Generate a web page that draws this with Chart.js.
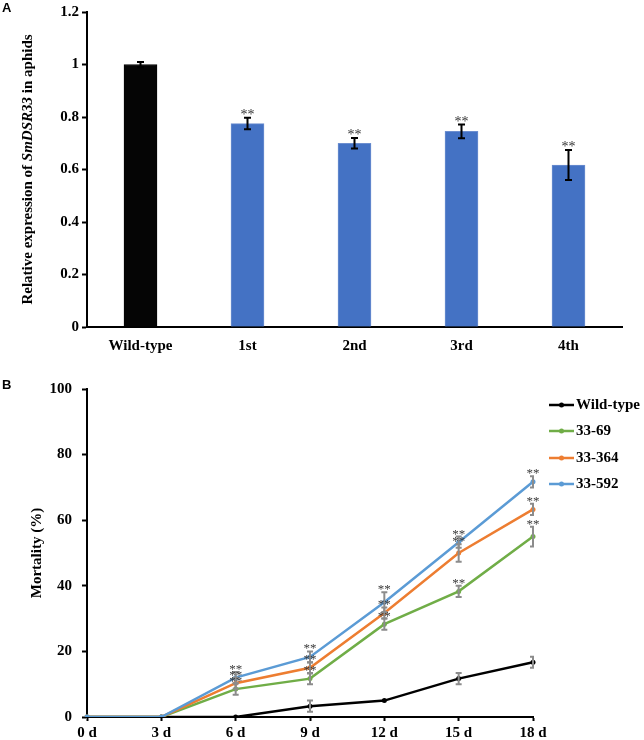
<!DOCTYPE html>
<html><head><meta charset="utf-8">
<script src="https://cdn.jsdelivr.net/npm/chart.js@4/dist/chart.umd.min.js"></script>
<style>
html,body{margin:0;padding:0;background:#fff;}
#wrapA{position:absolute;left:0;top:0;width:644px;height:360px;}
#wrapB{position:absolute;left:0;top:360px;width:644px;height:380px;}
canvas{display:block;}
</style></head><body>
<div id="wrapA"><canvas id="chartA" width="644" height="360"></canvas></div>
<div id="wrapB"><canvas id="chartB" width="644" height="380"></canvas></div>
<script>
// ---- Panel A data ----
const lineNames = ['Wild-type', '1st', '2nd', '3rd', '4th'];
const expression = [1.0, 0.775, 0.70, 0.745, 0.617];
const expressionErr = [0.01, 0.022, 0.02, 0.026, 0.057];
const expressionSig = ['', '**', '**', '**', '**'];
const expressionTicks = ['0', '0.2', '0.4', '0.6', '0.8', '1', '1.2'];

// ---- Panel B data ----
const days = ['0 d', '3 d', '6 d', '9 d', '12 d', '15 d', '18 d'];
const seriesNames = ['Wild-type', '33-69', '33-364', '33-592'];
const wildType = [0, 0, 0, 3.3, 5, 11.7, 16.7];
const wildTypeErr = [0, 0, 0, 1.7, 0, 1.7, 1.7];
const line69 = [0, 0, 8.5, 11.7, 28.3, 38.3, 55];
const line69Err = [0, 0, 1.7, 1.7, 1.7, 1.7, 3];
const line364 = [0, 0, 10.3, 15, 31.7, 50, 63.3];
const line364Err = [0, 0, 1.7, 1.7, 1.7, 2.7, 1.7];
const line592 = [0, 0, 12, 18.3, 35, 53.3, 71.7];
const line592Err = [0, 0, 1.7, 1.7, 3, 1.7, 1.7];
const mortalitySig = ['', '', '**', '**', '**', '**', '**'];

const SERIF = "'Liberation Serif', 'Times New Roman', serif";
const SANS = "'Liberation Sans', Arial, sans-serif";

// ---------- Chart A ----------
const panelAPlugin = {
  id: 'panelA',
  afterDatasetsDraw(chart) {
    const ctx = chart.ctx, x = chart.scales.x, y = chart.scales.y;
    ctx.save();
    ctx.strokeStyle = '#000';
    ctx.lineWidth = 2;
    expression.forEach((v, i) => {
      const e = expressionErr[i];
      const px = x.getPixelForValue(i);
      const top = y.getPixelForValue(v + e), bot = y.getPixelForValue(v - e);
      ctx.beginPath();
      ctx.moveTo(px, top); ctx.lineTo(px, bot);
      ctx.moveTo(px - 3.5, top); ctx.lineTo(px + 3.5, top);
      ctx.moveTo(px - 3.5, bot); ctx.lineTo(px + 3.5, bot);
      ctx.stroke();
      if (expressionSig[i]) {
        ctx.fillStyle = '#333';
        ctx.font = '14px ' + SERIF;
        ctx.textAlign = 'center';
        ctx.textBaseline = 'alphabetic';
        ctx.fillText(expressionSig[i], px, top + 1);
      }
    });
    ctx.restore();
  },
  afterDraw(chart) {
    const ctx = chart.ctx;
    ctx.save();
    ctx.fillStyle = '#000';
    ctx.font = 'bold 13px ' + SANS;
    ctx.textAlign = 'left';
    ctx.textBaseline = 'middle';
    ctx.fillText('A', 2, 8);
    const segs = [
      ['Relative expression of ', 'bold 15px ' + SERIF],
      ['SmDSR33', 'italic bold 15px ' + SERIF],
      [' in aphids', 'bold 15px ' + SERIF]
    ];
    let total = 0;
    segs.forEach(s => { ctx.font = s[1]; total += ctx.measureText(s[0]).width; });
    const area = chart.chartArea;
    ctx.translate(28, (area.top + area.bottom) / 2);
    ctx.rotate(-Math.PI / 2);
    let cx = -total / 2;
    segs.forEach(s => { ctx.font = s[1]; ctx.fillText(s[0], cx, 0); cx += ctx.measureText(s[0]).width; });
    ctx.restore();
  }
};

new Chart(document.getElementById('chartA'), {
  type: 'bar',
  data: {
    labels: lineNames,
    datasets: [{
      data: expression,
      backgroundColor: ['#050505', '#4472C4', '#4472C4', '#4472C4', '#4472C4'],
      borderColor: ['#050505', '#6d8fd0', '#6d8fd0', '#6d8fd0', '#6d8fd0'],
      borderWidth: 1,
      barThickness: 33
    }]
  },
  options: {
    responsive: false,
    devicePixelRatio: 1,
    animation: false,
    layout: { padding: { top: 5, right: 22, left: 0, bottom: 0 } },
    plugins: { legend: { display: false }, tooltip: { enabled: false } },
    scales: {
      x: {
        grid: { display: false, drawTicks: false },
        border: { display: true, color: '#000', width: 2 },
        ticks: { color: '#000', font: { family: SERIF, size: 15, weight: 'bold' }, padding: 10, maxRotation: 0, autoSkip: false },
        afterFit(s) { s.height = 33; }
      },
      y: {
        min: 0, max: 1.2,
        ticks: {
          stepSize: 0.2, color: '#000', font: { family: SERIF, size: 15, weight: 'bold' }, padding: 3,
          callback: (v, i) => expressionTicks[i]
        },
        grid: { display: true, drawOnChartArea: false, drawTicks: true, tickLength: 5, tickWidth: 2, tickColor: '#000' },
        border: { display: true, color: '#000', width: 2 },
        afterFit(s) { s.width = 87; }
      }
    }
  },
  plugins: [panelAPlugin]
});

// ---------- Chart B ----------
const seriesValues = [wildType, line69, line364, line592];
const seriesErrs = [wildTypeErr, line69Err, line364Err, line592Err];
const seriesColors = ['#000000', '#70AD47', '#ED7D31', '#5B9BD5'];

const panelBPlugin = {
  id: 'panelB',
  afterDatasetsDraw(chart) {
    const ctx = chart.ctx, x = chart.scales.x, y = chart.scales.y, area = chart.chartArea;
    ctx.save();
    ctx.beginPath();
    ctx.rect(0, 0, area.right + 1, chart.height);
    ctx.clip();
    ctx.strokeStyle = '#8c8c8c';
    ctx.lineWidth = 2;
    seriesValues.forEach((vals, si) => {
      vals.forEach((v, i) => {
        const e = seriesErrs[si][i];
        if (!e) return;
        const px = x.getPixelForValue(i);
        const top = y.getPixelForValue(v + e), bot = y.getPixelForValue(v - e);
        ctx.beginPath();
        ctx.moveTo(px, top); ctx.lineTo(px, bot);
        ctx.moveTo(px - 3, top); ctx.lineTo(px + 3, top);
        ctx.moveTo(px - 3, bot); ctx.lineTo(px + 3, bot);
        ctx.stroke();
      });
    });
    ctx.restore();
    ctx.save();
    ctx.fillStyle = '#3a3a3a';
    ctx.font = '13px ' + SERIF;
    ctx.textAlign = 'center';
    ctx.textBaseline = 'alphabetic';
    [1, 2, 3].forEach(si => {
      seriesValues[si].forEach((v, i) => {
        if (!mortalitySig[i]) return;
        const px = x.getPixelForValue(i);
        const top = y.getPixelForValue(v + seriesErrs[si][i]);
        ctx.fillText(mortalitySig[i], px, top + 1);
      });
    });
    ctx.restore();
  },
  afterDraw(chart) {
    const ctx = chart.ctx;
    ctx.save();
    ctx.fillStyle = '#000';
    ctx.font = 'bold 13px ' + SANS;
    ctx.textAlign = 'left';
    ctx.textBaseline = 'middle';
    ctx.fillText('B', 2, 25);
    const rowY = [45, 71, 98, 124];
    seriesNames.forEach((name, i) => {
      const yy = rowY[i];
      ctx.strokeStyle = seriesColors[i];
      ctx.lineWidth = 2.5;
      ctx.beginPath(); ctx.moveTo(549, yy); ctx.lineTo(574, yy); ctx.stroke();
      ctx.fillStyle = seriesColors[i];
      ctx.beginPath(); ctx.arc(561.5, yy, 2.5, 0, Math.PI * 2); ctx.fill();
      ctx.fillStyle = '#000';
      ctx.font = 'bold 15px ' + SERIF;
      ctx.fillText(name, 576, yy);
    });
    ctx.restore();
  }
};

new Chart(document.getElementById('chartB'), {
  type: 'line',
  data: {
    labels: days,
    datasets: seriesNames.map((name, i) => ({
      label: name,
      data: seriesValues[i],
      borderColor: seriesColors[i],
      backgroundColor: seriesColors[i],
      pointBackgroundColor: seriesColors[i],
      pointBorderWidth: 0,
      pointRadius: 2.5,
      borderWidth: 2.5,
      tension: 0,
      fill: false,
      order: 3 - i
    }))
  },
  options: {
    responsive: false,
    devicePixelRatio: 1,
    animation: false,
    layout: { padding: { top: 29, right: 111, left: 0, bottom: 0 } },
    plugins: { legend: { display: false }, tooltip: { enabled: false } },
    scales: {
      x: {
        offset: false,
        grid: { display: true, drawOnChartArea: false, drawTicks: true, tickLength: 4, tickWidth: 2, tickColor: '#000' },
        border: { display: true, color: '#000', width: 2 },
        ticks: { color: '#000', font: { family: SERIF, size: 15, weight: 'bold' }, padding: 3, maxRotation: 0, autoSkip: false },
        afterFit(s) { s.height = 23; }
      },
      y: {
        min: 0, max: 100,
        ticks: { stepSize: 20, color: '#000', font: { family: SERIF, size: 15, weight: 'bold' }, padding: 10 },
        grid: { display: true, drawOnChartArea: false, drawTicks: true, tickLength: 5, tickWidth: 2, tickColor: '#000' },
        border: { display: true, color: '#000', width: 2 },
        title: { display: true, text: 'Mortality (%)', color: '#000', font: { family: SERIF, size: 15, weight: 'bold' }, padding: { top: 28, bottom: 0 } },
        afterFit(s) { s.width = 87; }
      }
    }
  },
  plugins: [panelBPlugin]
});
</script>
</body></html>
